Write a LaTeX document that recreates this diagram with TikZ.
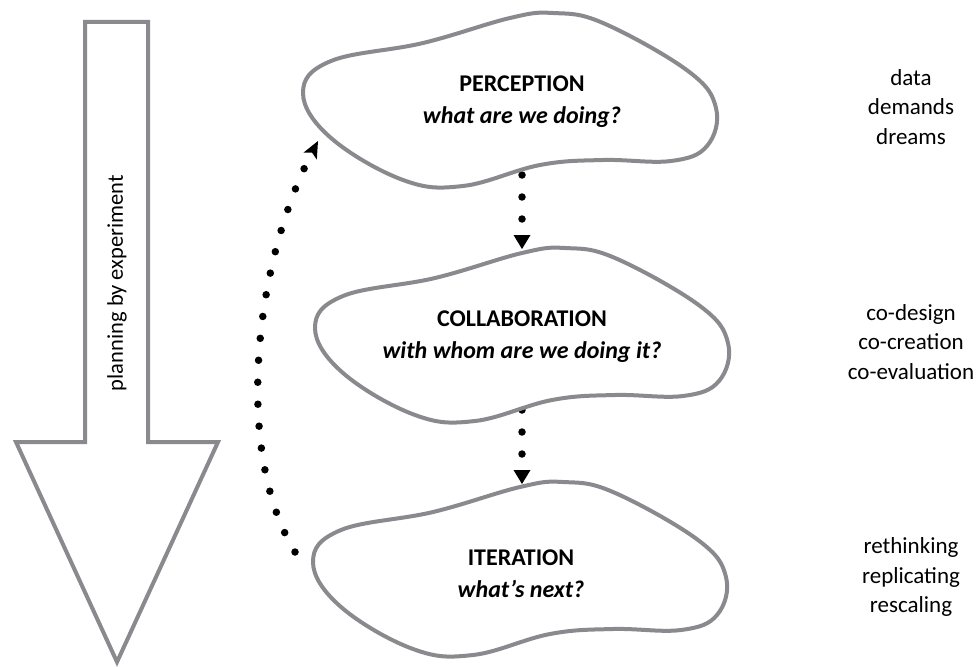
\documentclass[tikz,border=0pt]{standalone}
\usepackage{fontspec}
\setmainfont{Carlito}
\usetikzlibrary{arrows.meta}
\definecolor{shapegray}{HTML}{8A8A8E}
\tikzset{
  cloudline/.style={draw=shapegray, line width=4pt, fill=white, line join=round},
  bigarrow/.style={draw=shapegray, line width=4pt, fill=white, line join=miter},
  dotline/.style={line width=7.5pt, line cap=round, dash pattern=on 0pt off 22pt},
  vtip/.style={-{Triangle[width=17pt,length=14pt,line width'=0pt]}},
  ctip/.style={-{Stealth[width=15pt,length=17pt,inset=4pt,line width'=0pt]}},
  headtext/.style={font=\fontsize{24}{32}\selectfont, align=center, inner sep=0pt},
  sidetext/.style={font=\fontsize{23}{29.5}\selectfont, align=center, inner sep=0pt},
  arrowtext/.style={font=\fontsize{22.5}{27}\selectfont, inner sep=0pt, rotate=90},
}
\newcommand{\blobshape}[2]{%
  \draw[cloudline, shift={(#1,#2)}] plot[smooth cycle, tension=0.65] coordinates {
    (0,0) (28,-32) (120,-50) (207,-75) (250,-80) (300,-70) (385,-22)
    (413,15) (404,53) (368,68) (300,67) (237,72) (160,93) (100,87) (28,45)};}
\begin{document}
\begin{tikzpicture}[x=1pt,y=-1pt]
\useasboundingbox (0,0) rectangle (976,666);

% big arrow
\draw[bigarrow] (85,22) -- (148,22) -- (148,442) -- (218,442) -- (117,662)
  -- (16,442) -- (85,442) -- cycle;
\node[arrowtext] (plan) at (117,283) {planning by experiment};

% connector endpoints
\coordinate (p1b) at (522,153);
\coordinate (c2t) at (522,249);
\coordinate (c2b) at (522,388);
\coordinate (c3t) at (522,484);
\coordinate (c3l) at (295,552);
\coordinate (c1l) at (318,141);

% dotted connectors (behind the clouds)
\draw[dotline, vtip] (p1b) -- (c2t);
\draw[dotline, vtip] (c2b) -- (c3t);
\draw[dotline, ctip] (c3l) .. controls (233,450) and (255,262) .. (c1l);

% clouds
\blobshape{303}{93}
\blobshape{315}{328}
\blobshape{313}{562}

\node[headtext] (perc) at (522,102) {\textbf{PERCEPTION}\\\textbf{\textit{what are we doing?}}};
\node[headtext] (coll) at (522,337) {\textbf{COLLABORATION}\\\textbf{\textit{with whom are we doing it?}}};
\node[headtext] (iter) at (521,574) {\textbf{ITERATION}\\\textbf{\textit{what’s next?}}};

\node[sidetext] (s1) at (911,107) {data\\demands\\dreams};
\node[sidetext] (s2) at (911,342) {co-design\\co-creation\\co-evaluation};
\node[sidetext] (s3) at (911,577) {rethinking\\replicating\\rescaling};
\end{tikzpicture}
\end{document}
